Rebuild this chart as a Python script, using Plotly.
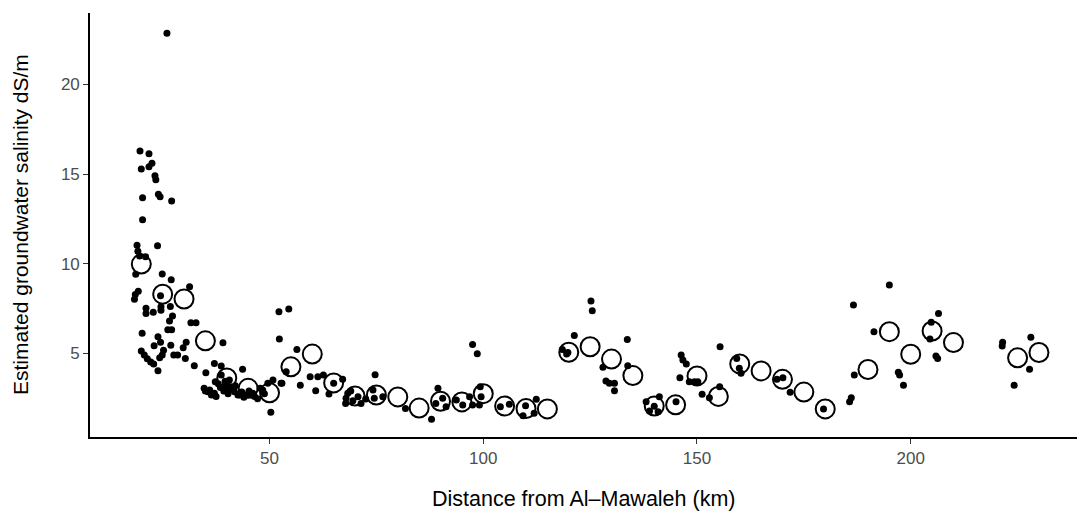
import plotly.graph_objects as go

# Individual well estimates (distance km, salinity dS/m)
dot_x = [26.0,
    19.7, 21.8, 22.5, 21.8, 20.0, 23.2, 23.4, 20.3, 24.0, 24.4, 27.1, 20.3,
    19.0, 23.8, 19.2, 19.6, 21.0,
    18.7, 24.9, 27.0, 31.3,
    19.3, 18.6, 18.4, 24.5,
    26.8, 21.1, 24.6, 24.6, 21.1, 22.8, 27.3, 26.6,
    31.6, 32.8, 26.2, 27.1, 20.2,
    23.9, 24.5, 23.0, 26.9, 25.2, 30.5, 29.8, 39.1,
    20.0, 20.7, 21.4, 22.2, 22.9, 24.3, 24.9, 23.9,
    27.6, 28.5, 30.3, 32.4, 35.1, 37.1, 38.7, 43.7,
    34.7, 36.0, 37.3, 38.7, 40.6, 41.0, 41.8, 43.0, 44.5, 45.7, 47.2, 48.4, 49.6, 50.3,
    36.4, 37.5, 35.6, 37.1, 42.6, 46.1, 50.8, 52.7, 39.5, 40.0,
    38.0, 39.3, 40.3, 42.0, 44.0, 46.5, 48.8, 39.6, 40.1,
    35.0, 38.5, 41.5, 43.5, 45.2, 47.8,
    52.3, 52.2, 54.5, 56.4, 53.9, 52.9, 57.2, 59.5, 61.3, 62.6, 67.1, 65.0, 63.9, 60.8, 74.7,
    68.3, 67.9, 67.8, 70.7, 71.4, 69.5, 72.5, 74.2, 74.5, 76.5, 69.0,
    81.8, 87.9, 89.4, 88.9, 91.3, 90.5, 93.7, 95.2, 96.8, 97.5, 99.1, 99.5, 99.3, 97.5, 98.6,
    104.0, 106.1, 109.9, 109.3, 112.4, 111.9,
    118.5, 119.5, 121.3, 119.8,
    125.2, 125.5, 128.0, 133.7, 133.8, 128.7, 129.5, 130.7, 130.7,
    138.1, 138.9, 141.2, 140.9, 140.0, 145.1,
    146.3, 146.7, 147.5, 146.0, 148.2, 149.4, 150.2, 155.4,
    151.2, 152.9, 155.3,
    159.3, 159.9, 160.3,
    168.7, 170.1, 171.8, 179.6,
    186.6, 186.8, 186.1, 185.7,
    195.0, 191.4, 206.5, 204.8, 204.5, 197.1, 197.4, 198.3, 205.9, 206.3,
    221.5, 221.4, 228.1, 227.8, 224.2]
dot_y = [22.85,
    16.29, 16.14, 15.60, 15.41, 15.28, 14.91, 14.68, 13.68, 13.88, 13.74, 13.50, 12.45,
    11.03, 11.00, 10.70, 10.43, 10.39,
    9.41, 9.43, 9.10, 8.72,
    8.47, 8.28, 8.02, 8.22,
    7.62, 7.51, 7.60, 7.40, 7.23, 7.29, 7.08, 6.80,
    6.71, 6.71, 6.32, 6.32, 6.12,
    5.92, 5.62, 5.42, 5.45, 5.17, 5.62, 5.32, 5.59,
    5.13, 4.91, 4.70, 4.52, 4.41, 4.75, 4.91, 4.03,
    4.91, 4.91, 4.72, 4.31, 3.92, 4.43, 4.30, 4.11,
    3.05, 2.96, 3.42, 3.79, 3.51, 3.14, 2.86, 2.68, 2.68, 2.68, 2.47, 2.96, 3.33, 1.72,
    2.68, 2.60, 2.86, 2.77, 2.68, 2.77, 3.51, 3.33, 3.20, 3.30,
    3.30, 2.90, 2.75, 3.20, 2.55, 2.60, 2.75, 3.45, 2.95,
    2.90, 3.10, 3.00, 2.85, 2.90, 3.05,
    5.80, 7.32, 7.47, 5.22, 3.98, 3.33, 3.22, 3.70, 3.70, 3.79, 3.55, 3.33, 2.73, 2.92, 3.81,
    2.77, 2.49, 2.21, 2.58, 2.21, 2.35, 2.45, 2.96, 2.49, 2.58, 2.90,
    1.93, 1.32, 3.05, 2.21, 2.02, 2.49, 2.40, 2.12, 2.58, 2.12, 2.12, 2.58, 3.14, 5.50, 4.98,
    2.02, 2.16, 2.08, 1.52, 2.44, 1.66,
    5.22, 4.96, 6.00, 5.05,
    7.92, 7.38, 4.22, 5.78, 4.31, 3.46, 3.33, 3.33, 2.92,
    2.30, 1.78, 2.58, 1.75, 2.05, 2.30,
    4.91, 4.63, 4.41, 3.64, 3.42, 3.42, 3.42, 5.37,
    2.72, 2.53, 3.14,
    4.72, 4.17, 3.89,
    3.55, 3.64, 2.83, 1.90,
    7.70, 3.79, 2.53, 2.30,
    8.81, 6.21, 7.23, 6.73, 5.80, 3.94, 3.79, 3.22, 4.85, 4.72,
    5.62, 5.41, 5.90, 4.11, 3.22]

# Binned means (5 km bins)
mean_x = [20, 25, 30, 35, 40, 45, 50, 55, 60, 65, 70, 75, 80, 85, 90, 95, 100,
          105, 110, 115, 120, 125, 130, 135, 140, 145, 150, 155, 160, 165, 170,
          175, 180, 190, 195, 200, 205, 210, 225, 230]
mean_y = [9.98, 8.3, 8.03, 5.7, 3.63, 3.05, 2.8, 4.25, 4.96, 3.35, 2.62, 2.68,
          2.57, 1.95, 2.33, 2.29, 2.75, 2.06, 1.92, 1.90, 5.06, 5.37, 4.68,
          3.76, 2.06, 2.13, 3.74, 2.6, 4.41, 4.02, 3.55, 2.84, 1.9, 4.1, 6.21,
          4.95, 6.25, 5.6, 4.75, 5.05]

x_ticks = [50, 100, 150, 200]
y_ticks = [5, 10, 15, 20]

FONT = "Liberation Sans, Arial, Helvetica, sans-serif"

fig = go.Figure()
fig.add_trace(go.Scatter(
    x=dot_x, y=dot_y, mode="markers",
    marker=dict(size=7, color="black", line=dict(width=0)),
    hoverinfo="x+y", showlegend=False))
fig.add_trace(go.Scatter(
    x=mean_x, y=mean_y, mode="markers",
    marker=dict(size=19, color="black", symbol="circle-open",
                line=dict(width=2, color="black")),
    showlegend=False))

axis_common = dict(
    showgrid=False, zeroline=False, showline=True, linecolor="black",
    linewidth=1.6, ticks="outside", ticklen=5, tickwidth=1, tickcolor="#333333",
    tickfont=dict(family=FONT, size=17, color="#4D4D4D"))

fig.update_xaxes(range=[8.0, 238.9], tickvals=x_ticks, **axis_common)
fig.update_yaxes(range=[0.335, 23.985], tickvals=y_ticks, **axis_common)

fig.update_layout(
    width=1077, height=514,
    margin=dict(l=90, r=0, t=13, b=77),
    plot_bgcolor="white", paper_bgcolor="white",
    font=dict(family=FONT),
    annotations=[
        dict(text="Distance from Al\u2013Mawaleh (km)", xref="paper", yref="paper",
             x=0.5, y=0, xanchor="center", yanchor="middle", yshift=-62,
             showarrow=False, font=dict(family=FONT, size=21.5, color="black")),
        dict(text="Estimated groundwater salinity dS/m", xref="paper", yref="paper",
             x=0, y=0.5, xanchor="center", yanchor="middle", xshift=-70,
             textangle=-90, showarrow=False,
             font=dict(family=FONT, size=21, color="black")),
    ])

fig.write_html("out.html", config={"displayModeBar": False},
               post_script="document.body.style.margin='0';document.body.style.overflow='hidden';")
